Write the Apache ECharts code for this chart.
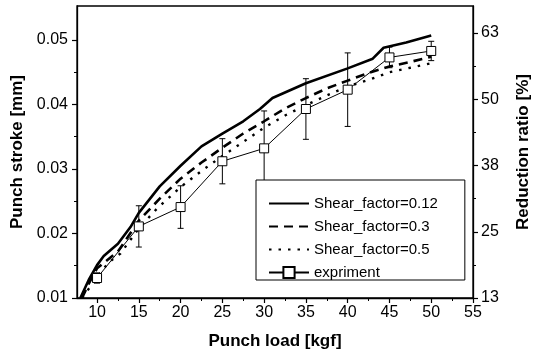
<!DOCTYPE html>
<html>
<head>
<meta charset="utf-8">
<script src="https://cdn.jsdelivr.net/npm/echarts@6/dist/echarts.min.js"></script>
<style>
  html, body { margin: 0; padding: 0; background: #fff; }
  #chart { width: 533px; height: 353px; }
</style>
</head>
<body>
<div id="chart"></div>
<script>
// Simulated punch stroke vs. load for three shear factors, plus experiment.
const load012 = [8.0, 9.0, 10.0, 10.8, 12.5, 14.0, 15.0, 17.5, 20.0, 22.5, 25.0, 27.5, 29.5, 31.0, 35.0, 40.0, 43.0, 44.3, 47.0, 50.0];
const stroke012 = [0.0100, 0.0128, 0.0151, 0.0165, 0.0184, 0.0210, 0.0232, 0.0273, 0.0305, 0.0335, 0.0355, 0.0374, 0.0393, 0.0410, 0.0433, 0.0456, 0.0471, 0.0488, 0.0496, 0.0507];

const load03 = [8.2, 9.0, 10.0, 12.5, 15.0, 17.5, 20.0, 22.5, 25.0, 27.5, 30.0, 32.5, 35.0, 37.5, 40.0, 42.5, 45.0, 47.5, 50.0];
const stroke03 = [0.0100, 0.0122, 0.0146, 0.0172, 0.0220, 0.0254, 0.0285, 0.0310, 0.0333, 0.0355, 0.0374, 0.0394, 0.0410, 0.0425, 0.0437, 0.0449, 0.0459, 0.0466, 0.0474];

const load05 = [8.2, 9.5, 11.3, 12.8, 15.0, 17.2, 20.0, 22.5, 25.0, 27.5, 30.0, 32.5, 35.0, 37.5, 40.0, 42.5, 45.0, 47.5, 50.0];
const stroke05 = [0.0100, 0.0123, 0.0154, 0.0169, 0.0208, 0.0239, 0.0272, 0.0297, 0.0320, 0.0342, 0.0364, 0.0383, 0.0399, 0.0414, 0.0428, 0.0438, 0.0450, 0.0457, 0.0464];

const loadExp = [10, 15, 20, 25, 30, 35, 40, 45, 50];
const strokeExp = [0.0131, 0.0211, 0.0241, 0.0312, 0.0332, 0.0393, 0.0423, 0.0473, 0.0483];
const errExp = [0.0008, 0.0032, 0.0033, 0.0035, 0.0058, 0.0047, 0.0057, 0.0016, 0.0015];

// Axis ticks
const xMajor = [10, 15, 20, 25, 30, 35, 40, 45, 50, 55];
const xMinor = [12.5, 17.5, 22.5, 27.5, 32.5, 37.5, 42.5, 47.5, 52.5];
const yMajor = [0.01, 0.02, 0.03, 0.04, 0.05];
const yMinor = [0.015, 0.025, 0.035, 0.045];
const ratioMajor = [12.5, 25, 37.5, 50, 62.5];
const ratioMinor = [18.75, 31.25, 43.75, 56.25];

const names = ['Shear_factor=0.12', 'Shear_factor=0.3', 'Shear_factor=0.5', 'expriment'];

const FONT = '"Liberation Sans", Arial, Helvetica, sans-serif';
const zip = (a, b) => a.map((v, i) => [v, b[i]]);

const X_MIN = 7.6, X_MAX = 55;
const Y_MIN = 0.01, Y_MAX = 0.05527;
const R_MIN = 12.5, R_MAX = 67.6;

const chart = echarts.init(document.getElementById('chart'), null, { renderer: 'canvas' });

const axisLineStyle = { lineStyle: { color: '#000', width: 1.3 } };
const tickLabel = { color: '#000', fontSize: 16, fontFamily: FONT };
const nameStyle = { color: '#000', fontSize: 17, fontWeight: 'bold', fontFamily: FONT };

const option = {
  backgroundColor: '#fff',
  animation: false,
  grid: {
    left: 77, right: 60, top: 6, bottom: 55,
    outerBoundsMode: 'none',
    containLabel: false,
    show: true, borderColor: '#000', borderWidth: 1.3, backgroundColor: 'transparent'
  },
  legend: {
    // line-only icons for the simulated curves (symbol hidden)
    data: [
      { name: names[0], itemStyle: { opacity: 0 } },
      { name: names[1], itemStyle: { opacity: 0 } },
      { name: names[2], itemStyle: { opacity: 0 } },
      { name: names[3] }
    ],
    orient: 'vertical',
    left: 256, top: 180,
    itemWidth: 40, itemHeight: 14, itemGap: 8,
    padding: [16, 27, 0, 12],
    borderColor: '#000', borderWidth: 1, backgroundColor: '#fff',
    textStyle: { color: '#000', fontSize: 15, fontFamily: FONT },
    selectedMode: false
  },
  xAxis: [
    {
      type: 'value', min: X_MIN, max: X_MAX, position: 'bottom',
      name: 'Punch load [kgf]', nameLocation: 'middle', nameGap: 35, nameTextStyle: nameStyle,
      axisLine: axisLineStyle,
      axisTick: { show: true, inside: false, length: 5, customValues: xMajor, lineStyle: { color: '#000', width: 1.2 } },
      axisLabel: { customValues: xMajor, margin: 7, ...tickLabel },
      splitLine: { show: false }
    },
    {
      type: 'value', min: X_MIN, max: X_MAX, position: 'bottom',
      axisLine: { show: false },
      axisTick: { show: true, inside: false, length: 3, customValues: xMinor, lineStyle: { color: '#000', width: 1 } },
      axisLabel: { show: false },
      splitLine: { show: false }
    }
  ],
  yAxis: [
    {
      type: 'value', min: Y_MIN, max: Y_MAX, position: 'left',
      name: 'Punch stroke [mm]', nameLocation: 'middle', nameGap: 44, nameRotate: 90, nameTextStyle: nameStyle,
      axisLine: axisLineStyle,
      axisTick: { show: true, inside: false, length: 5, customValues: yMajor, lineStyle: { color: '#000', width: 1.2 } },
      axisLabel: { customValues: yMajor, margin: 9, formatter: v => v.toFixed(2), ...tickLabel },
      splitLine: { show: false }
    },
    {
      type: 'value', min: R_MIN, max: R_MAX, position: 'right',
      name: 'Reduction ratio [%]', nameLocation: 'middle', nameGap: 42, nameRotate: 90, nameTextStyle: nameStyle,
      axisLine: axisLineStyle,
      axisTick: { show: true, inside: false, length: 5, customValues: ratioMajor, lineStyle: { color: '#000', width: 1.2 } },
      axisLabel: { customValues: ratioMajor, margin: 8, formatter: v => String(Math.round(v)), ...tickLabel },
      splitLine: { show: false }
    },
    {
      type: 'value', min: Y_MIN, max: Y_MAX, position: 'left',
      axisLine: { show: false },
      axisTick: { show: true, inside: false, length: 3, customValues: yMinor, lineStyle: { color: '#000', width: 1 } },
      axisLabel: { show: false },
      splitLine: { show: false }
    },
    {
      type: 'value', min: R_MIN, max: R_MAX, position: 'right',
      axisLine: { show: false },
      axisTick: { show: true, inside: false, length: 3, customValues: ratioMinor, lineStyle: { color: '#000', width: 1 } },
      axisLabel: { show: false },
      splitLine: { show: false }
    }
  ],
  series: [
    {
      name: names[0], type: 'line', data: zip(load012, stroke012),
      showSymbol: false, symbol: 'none',
      lineStyle: { color: '#000', width: 2.6, type: 'solid' },
      itemStyle: { color: '#000' }
    },
    {
      name: names[1], type: 'line', data: zip(load03, stroke03),
      showSymbol: false, symbol: 'none',
      lineStyle: { color: '#000', width: 2.6, type: [9, 6] },
      itemStyle: { color: '#000' }
    },
    {
      name: names[2], type: 'line', data: zip(load05, stroke05),
      showSymbol: false, symbol: 'none',
      lineStyle: { color: '#000', width: 2.4, type: [2.5, 7] },
      itemStyle: { color: '#000' }
    },
    {
      // error bars for the measurements
      type: 'custom',
      data: loadExp.map((x, i) => [x, strokeExp[i], errExp[i]]),
      z: 3,
      renderItem: (params, api) => {
        const x = api.value(0), y = api.value(1), e = api.value(2);
        const top = api.coord([x, y + e]);
        const bot = api.coord([x, y - e]);
        const hw = 3;
        const st = { stroke: '#000', lineWidth: 1 };
        return {
          type: 'group',
          children: [
            { type: 'line', shape: { x1: top[0], y1: top[1], x2: bot[0], y2: bot[1] }, style: st },
            { type: 'line', shape: { x1: top[0] - hw, y1: top[1], x2: top[0] + hw, y2: top[1] }, style: st },
            { type: 'line', shape: { x1: bot[0] - hw, y1: bot[1], x2: bot[0] + hw, y2: bot[1] }, style: st }
          ]
        };
      }
    },
    {
      name: names[3], type: 'line', data: zip(loadExp, strokeExp),
      z: 4,
      symbol: 'rect', symbolSize: 9, showSymbol: true,
      lineStyle: { color: '#000', width: 1 },
      itemStyle: { color: '#fff', borderColor: '#000', borderWidth: 1 }
    }
  ]
};

chart.setOption(option);
</script>
</body>
</html>
